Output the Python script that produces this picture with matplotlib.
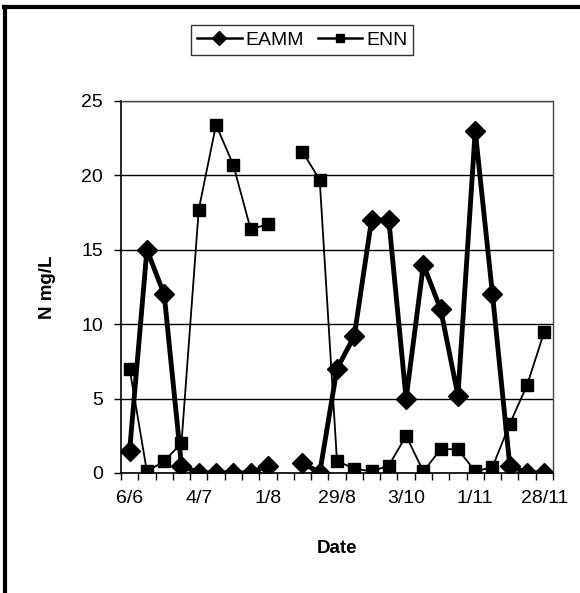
import numpy as np
import matplotlib
matplotlib.use("Agg")
from matplotlib import pyplot as plt
from matplotlib.lines import Line2D
from matplotlib.ticker import FixedLocator

plt.rcParams['font.family'] = ['Liberation Sans', 'DejaVu Sans']

# one value per sampling occasion (category axis), NaN = no sample
eamm = [1.5, 15.0, 12.0, 0.5, 0.0, 0.0, 0.0, 0.0, 0.5, np.nan, 0.7, 0.0, 7.0,
        9.2, 17.0, 17.0, 5.0, 14.0, 11.0, 5.2, 23.0, 12.0, 0.5, 0.0, 0.0]
enn = [7.0, 0.1, 0.8, 2.0, 17.7, 23.4, 20.7, 16.4, 16.7, np.nan, 21.6, 19.7, 0.8,
       0.3, 0.1, 0.5, 2.5, 0.1, 1.6, 1.6, 0.1, 0.4, 3.3, 5.9, 9.5]
tick_labels = ['6/6', '4/7', '1/8', '29/8', '3/10', '1/11', '28/11']
label_step = 4

x = np.arange(len(eamm))

fig = plt.figure(figsize=(5.8, 5.93), dpi=100)
ax = fig.add_axes([0.2086, 0.2024, 0.9534 - 0.2086, 0.8297 - 0.2024])

ax.plot(x, eamm, color='black', lw=3.5, marker='D', markersize=10, label='EAMM')
ax.plot(x, enn, color='black', lw=1.3, marker='s', markersize=8.5, label='ENN')

ax.set_xlim(-0.5, len(x) - 0.5)
ax.set_ylim(0, 25)
ax.set_yticks(np.arange(0, 26, 5))
ax.set_xticks(x[::label_step])
ax.set_xticklabels(tick_labels)
ax.xaxis.set_minor_locator(FixedLocator(np.arange(-0.5, len(x), 1)))
ax.tick_params(axis='x', which='major', length=0, pad=12, labelsize=14)
ax.tick_params(axis='x', which='minor', length=5, width=1, direction='out')
ax.tick_params(axis='y', length=5, width=1, direction='out', labelsize=14, pad=8)

ax.grid(axis='y', color='black', lw=1)
ax.set_axisbelow(True)
for side in ['left', 'bottom']:
    ax.spines[side].set_linewidth(1.2)
for side in ['top', 'right']:
    ax.spines[side].set_linewidth(1)
    ax.spines[side].set_linestyle((0, (1, 1)))
    ax.spines[side].set_color('#444444')

ax.set_ylabel('N mg/L', fontsize=13.5, fontweight='bold', labelpad=18)
ax.set_xlabel('Date', fontsize=13.5, fontweight='bold', labelpad=24)

leg = fig.legend(loc='center', bbox_to_anchor=(0.521, 0.9325), ncol=2,
                 fontsize=14, frameon=True, fancybox=False, handlelength=2.3,
                 columnspacing=0.7, handletextpad=0.2, borderpad=0.3,
                 markerscale=0.75)
leg.get_frame().set_edgecolor('black')
leg.get_frame().set_linewidth(1)
for h in leg.get_lines():
    h.set_linewidth(1.8)

# chart area border (top and left only)
fig.add_artist(Line2D([0.009, 0.009], [0.0, 0.988], transform=fig.transFigure,
                      color='black', lw=3))
fig.add_artist(Line2D([0.007, 1.0], [0.988, 0.988], transform=fig.transFigure,
                      color='black', lw=3))

fig.savefig('out.png', dpi=100)
